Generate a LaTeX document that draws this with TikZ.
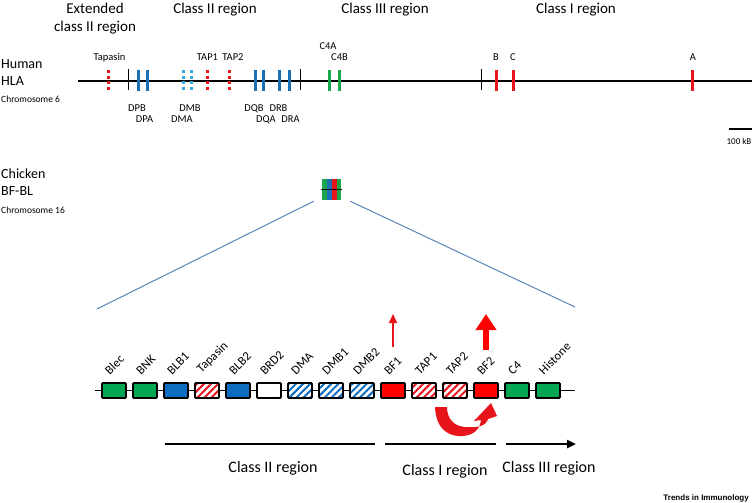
\documentclass[tikz,border=0pt]{standalone}
\usepackage{fontspec}
\setmainfont{Carlito}
\newfontfamily\logofont{Liberation Sans}
\usetikzlibrary{arrows.meta,patterns.meta,positioning,calc}
\definecolor{genred}{HTML}{E8141B}
\definecolor{genblue}{HTML}{1B6FB5}
\definecolor{skyblue}{HTML}{3AAADD}
\definecolor{gengreen}{HTML}{1AA64B}
\definecolor{boxgreen}{HTML}{00A651}
\definecolor{boxblue}{HTML}{0B6CC0}
\definecolor{linkblue}{HTML}{5B86B8}
\tikzset{
  gene/.style={line width=3pt},
  dotbar/.style={dash pattern=on 3pt off 2.5pt},
  gtick/.style={line width=0.6pt},
  lbl/.style={font=\fontsize{10.5}{12}\selectfont,anchor=base,inner sep=0pt},
  title/.style={font=\fontsize{15}{18}\selectfont,anchor=base,inner sep=0pt},
  side/.style={font=\fontsize{14}{16}\selectfont,anchor=base west,inner sep=0pt},
  sidesmall/.style={font=\fontsize{9.5}{11}\selectfont,anchor=base west,inner sep=0pt},
  region/.style={font=\fontsize{16}{19}\selectfont,anchor=base,inner sep=0pt},
  glabel/.style={font=\fontsize{12.5}{14}\selectfont,rotate=45,anchor=south west,inner sep=0.5pt},
  locus/.style={draw=black,line width=1.8pt,rounded corners=1pt,
                minimum width=24pt,minimum height=15pt,inner sep=0pt},
  fgreen/.style={locus,fill=boxgreen},
  fblue/.style={locus,fill=boxblue},
  fred/.style={locus,fill=red},
  fwhite/.style={locus,fill=white},
  hred/.style={locus,preaction={fill=white},
               pattern={Lines[angle=45,distance=5pt,line width=2pt]},pattern color=genred},
  hblue/.style={locus,preaction={fill=white},
                pattern={Lines[angle=45,distance=5pt,line width=2pt]},pattern color=boxblue},
  link/.style={linkblue,line width=1pt},
  span/.style={line width=2.5pt}
}
\begin{document}
\begin{tikzpicture}[x=1pt,y=-1pt,line cap=butt]
  \fill[white] (0,0) rectangle (752,503);
  \useasboundingbox (0,0) rectangle (752,503);
  % --- region titles ---
  \node[title] (t-ext1) at (95,13.5) {Extended};
  \node[title] (t-ext2) at (95,31.5) {class II region};
  \node[title] (t-c2) at (215,14) {Class II region};
  \node[title] (t-c3) at (385,14) {Class III region};
  \node[title] (t-c1) at (576,14) {Class I region};
  % --- human HLA ---
  \node[side] (human) at (1,69) {Human};
  \node[side] (hla) at (1,85) {HLA};
  \node[sidesmall] (chr6) at (1,102) {Chromosome 6};
  \coordinate (hl) at (78,81);
  \coordinate (hr) at (752,81);
  \draw[line width=1.4pt] (hl) -- (hr);
  \foreach \x in {128,300,481}{
    \draw[gtick] (\x,69) -- (\x,90);
  }
  \foreach \x/\c in {138/genblue,147/genblue,255/genblue,263/genblue,279/genblue,289/genblue,
                     329/gengreen,339/gengreen,496/genred,513/genred,692/genred}{
    \draw[gene,\c] (\x,70) -- (\x,91);
  }
  \foreach \x/\c in {108/genred,183/skyblue,191/skyblue,207/genred,229/genred}{
    \draw[gene,dotbar,\c] (\x,70) -- (\x,91);
  }
  % --- HLA labels ---
  \foreach \x/\y/\t in {109.5/61/Tapasin,207.5/61/TAP1,233/61/TAP2,328/49/C4A,339.5/61/C4B,
                        496/61/B,513/61/C,693/61/A,
                        137/111/DPB,144.5/122/DPA,190/111/DMB,182/122/DMA,
                        254/111/DQB,278.5/111/DRB,266/122/DQA,290.5/122/DRA}{
    \node[lbl] (hla-\t) at (\x,\y) {\t};
  }
  % --- scale bar ---
  \coordinate (sb1) at (729,129);
  \coordinate (sb2) at (752,129);
  \draw[line width=1.5pt] (sb1) -- (sb2);
  \node[lbl,font=\fontsize{9}{10}\selectfont] (sblabel) at (739,144) {100 kB};
  % --- chicken BF-BL ---
  \node[side] (chicken) at (1,178) {Chicken};
  \node[side] (bfbl) at (1,195) {BF-BL};
  \node[sidesmall] (chr16) at (1,213) {Chromosome 16};
  \node[minimum width=19pt,minimum height=21pt,inner sep=0pt] (mini) at (331.5,189.5) {};
  \fill[gengreen] (mini.north west) rectangle ++(5,21);
  \fill[genblue] ($(mini.north west)+(5,0)$) rectangle ++(5,21);
  \fill[genred] ($(mini.north west)+(10,0)$) rectangle ++(5,21);
  \fill[gengreen] ($(mini.north west)+(15,0)$) rectangle ++(4,21);
  \draw[line width=0.6pt] ($(mini.west)+(-1,0)$) -- ($(mini.east)+(1,0)$);
  % --- zoom lines ---
  \coordinate (zl) at (97,309);
  \coordinate (zr) at (575,307);
  \draw[link] ($(mini.south west)+(-8,1)$) -- (zl);
  \draw[link] ($(mini.south east)+(9,1)$) -- (zr);
  % --- chicken gene array ---
  \coordinate (bbl) at (95,390.5);
  \coordinate (bbr) at (575,390.5);
  \draw[line width=1.5pt] (bbl) -- (bbr);
  \foreach \name/\sty [count=\i] in {Blec/fgreen,BNK/fgreen,BLB1/fblue,Tapasin/hred,BLB2/fblue,
      BRD2/fwhite,DMA/hblue,DMB1/hblue,DMB2/hblue,BF1/fred,TAP1/hred,TAP2/hred,
      BF2/fred,C4/fgreen,Histone/fgreen}{
    \node[\sty] (g\i) at ({83+31*\i},390.5) {};
    \node[glabel] (gl\i) at ($(g\i.north)+(-4,-6)$) {\name};
  }
  % --- expression arrows ---
  \coordinate (bf1a) at (393,347);
  \coordinate (bf1b) at (393,314);
  \draw[genred,line width=2pt,-{Triangle[width=8pt,length=9pt]}] (bf1a) -- (bf1b);
  \coordinate (bf2a) at (486,350);
  \coordinate (bf2b) at (486,314);
  \draw[red,line width=6pt,-{Triangle[width=20pt,length=16pt]}] (bf2a) -- (bf2b);
  % --- curved arrow TAP -> BF2 ---
  \fill[genred] (435,407) .. controls (436,432) and (452,437) .. (463,436)
        .. controls (474,435) and (480,429) .. (481,420)
        -- (474,421) -- (491,403) -- (497,416) -- (488,419)
        .. controls (486,426) and (478,428) .. (465,427)
        .. controls (453,426) and (447,418) .. (447,407) -- cycle;
  % --- region spans ---
  \coordinate (s2a) at (165,444); \coordinate (s2b) at (375,444);
  \coordinate (s1a) at (385,444); \coordinate (s1b) at (496,444);
  \coordinate (s3a) at (506,444); \coordinate (s3b) at (576,444);
  \draw[span] (s2a) -- (s2b);
  \draw[span] (s1a) -- (s1b);
  \draw[span,-{Triangle[width=8pt,length=9pt]}] (s3a) -- (s3b);
  \node[region] (r2) at (273,472) {Class II region};
  \node[region] (r1) at (445,475) {Class I region};
  \node[region] (r3) at (549,472) {Class III region};
  % --- journal mark ---
  \node[font=\logofont\bfseries\fontsize{8}{9}\selectfont,anchor=base east,inner sep=0pt]
       (logo) at (749,500) {Trends in Immunology};
\end{tikzpicture}
\end{document}
